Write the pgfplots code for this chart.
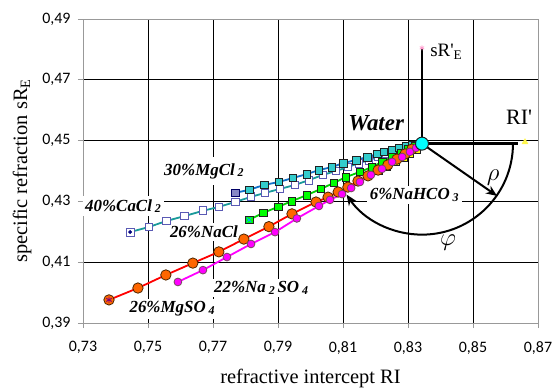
\documentclass[border=0pt]{standalone}
\usepackage{fontspec}
\setmainfont{Liberation Serif}
\newfontfamily\tickfont{Carlito}
\usepackage{pgfplots}
\pgfplotsset{compat=1.18}
\usetikzlibrary{arrows.meta}
\definecolor{caclline}{HTML}{1A9A9A}
\definecolor{cacledge}{HTML}{5A5AB4}
\definecolor{mgclline}{HTML}{1070C8}
\definecolor{mgclfill}{HTML}{33CCCC}
\definecolor{naclline}{HTML}{00CC00}
\definecolor{naclfill}{HTML}{00FF00}
\definecolor{mgsofill}{HTML}{FF6600}
\definecolor{nasofill}{HTML}{FF00FF}
\definecolor{nahcofill}{HTML}{FFFF00}
\definecolor{waterfill}{HTML}{00FFFF}
\definecolor{darkedge}{HTML}{202020}
\newcommand{\sub}[1]{\,{\fontsize{12}{12}\selectfont\raisebox{-1.5bp}{#1}}}
\newcommand{\lab}{\bfseries\itshape\fontsize{17}{17}\selectfont}
\begin{document}
\begin{tikzpicture}
\begin{axis}[
  width=455bp, height=304bp, scale only axis,
  xmin=0.73, xmax=0.87, ymin=0.39, ymax=0.49,
  xtick={0.73,0.75,0.77,0.79,0.81,0.83,0.85,0.87},
  ytick={0.39,0.41,0.43,0.45,0.47,0.49},
  grid=major, grid style={black, line width=0.6bp},
  axis line style={draw=gray!80, line width=0.8bp},
  tick align=outside, tick pos=left, major tick length=5bp,
  tick style={gray!80, line width=0.8bp},
  /pgf/number format/.cd, fixed, fixed zerofill, precision=2, use comma, assume math mode=true,
  /pgfplots/.cd,
  ticklabel style={font=\tickfont\fontsize{16}{16}\selectfont},
  xticklabel style={yshift=-10bp},
  yticklabel style={xshift=-4bp},
  xlabel={refractive intercept RI},
  ylabel={specific refraction sR\textsubscript{E}},
  xlabel style={font=\fontsize{20.5}{20.5}\selectfont, at={(axis description cs:0.5,-0.181)}, anchor=center},
  ylabel style={font=\fontsize{20.5}{20.5}\selectfont, at={(axis description cs:-0.134,0.5)}, anchor=center},
]
% labels with white boxes (drawn before the series)
\node[fill=white, inner sep=3bp] at (axis cs:0.7423,0.4285) {\lab 40\%CaCl\sub{2}};
\node[fill=white, inner sep=3bp, minimum height=28bp] at (axis cs:0.7672,0.4400) {\lab 30\%MgCl\sub{2}};
\node[fill=white, inner sep=3bp] at (axis cs:0.7672,0.4199) {\lab 26\%NaCl};
\node[fill=white, inner sep=3bp] at (axis cs:0.7848,0.4015) {\lab 22\%Na\sub{2}\,SO\sub{4}};
\node[fill=white, inner sep=3bp] at (axis cs:0.7574,0.3946) {\lab 26\%MgSO\sub{4}};
\node[fill=white, inner sep=3bp] at (axis cs:0.8319,0.4321) {\lab 6\%NaHCO\sub{3}};
\node[fill=white, inner sep=4bp, minimum height=33bp] at (axis cs:0.8202,0.4558) {\bfseries\itshape\fontsize{23}{23}\selectfont Water};
\node[anchor=west, inner sep=0pt] at (axis cs:0.8368,0.4792) {\fontsize{19}{19}\selectfont sR\textquotesingle\textsubscript{E}};
\node[inner sep=0pt] at (axis cs:0.8642,0.4578) {\fontsize{22}{22}\selectfont RI\textquotesingle};
\node[inner sep=0pt] at (axis cs:0.8562,0.4380) {\fontsize{26}{26}\selectfont$\rho$};
\node[inner sep=0pt] at (axis cs:0.8423,0.4163) {\fontsize{26}{26}\selectfont$\varphi$};

% 40% CaCl2
\addplot[caclline, line width=1.8bp, mark=square*, mark size=3.9bp,
  mark options={fill=white, draw=cacledge, line width=0.9bp, solid}] coordinates {
(0.7445,0.4199) (0.7503,0.4216) (0.7558,0.4236) (0.7613,0.4252) (0.7669,0.4269)
(0.7718,0.4282) (0.7768,0.4298) (0.7817,0.4315) (0.7860,0.4328) (0.7906,0.4341)
(0.7952,0.4354) (0.7995,0.4370) (0.8038,0.4387) (0.8078,0.4400) (0.8115,0.4413)
(0.8149,0.4426) (0.8180,0.4436) (0.8208,0.4446) (0.8232,0.4456) (0.8257,0.4462)
(0.8278,0.4469) (0.8299,0.4479) (0.8318,0.4484)};
\addplot[only marks, mark=*, mark size=1.7bp, color=blue!50!black] coordinates {(0.7445,0.4199)};

% 30% MgCl2
\addplot[mgclline, line width=1.8bp, mark=square*, mark size=3.9bp,
  mark options={fill=mgclfill, draw=darkedge, line width=0.8bp, solid}] coordinates {
(0.7811,0.4338) (0.7857,0.4354) (0.7903,0.4364) (0.7946,0.4377) (0.7989,0.4390)
(0.8026,0.4403) (0.8066,0.4413) (0.8100,0.4426) (0.8140,0.4436) (0.8174,0.4446)
(0.8205,0.4456) (0.8226,0.4463) (0.8251,0.4469) (0.8272,0.4476) (0.8294,0.4482)
(0.8312,0.4486)};
\addplot[mgclline, line width=1.8bp] coordinates {(0.7768,0.4328) (0.7811,0.4338)};
\addplot[only marks, mark=square*, mark size=3.9bp,
  mark options={fill=blue!35!gray!70, draw=blue!40!black, line width=0.9bp}] coordinates {(0.7768,0.4328)};

% 26% NaCl
\addplot[naclline, line width=1.8bp, mark=square*, mark size=3.9bp,
  mark options={fill=naclfill, draw=darkedge, line width=0.8bp, solid}] coordinates {
(0.7811,0.4239) (0.7854,0.4262) (0.7900,0.4282) (0.7943,0.4301) (0.7989,0.4321)
(0.8032,0.4341) (0.8072,0.4361) (0.8109,0.4380) (0.8152,0.4397) (0.8189,0.4413)
(0.8220,0.4430) (0.8251,0.4446) (0.8278,0.4459) (0.8300,0.4472) (0.8322,0.4482)};
\addplot[only marks, mark=x, mark size=3.2bp, color=cyan, line width=1bp] coordinates {(0.7811,0.4239)};

% 6% NaHCO3
\addplot[yellow!90!orange, line width=1.8bp, mark=square*, mark size=3.9bp,
  mark options={fill=nahcofill, draw=darkedge, line width=0.8bp, solid}] coordinates {
(0.8208,0.4403) (0.8235,0.4416) (0.8260,0.4430) (0.8285,0.4446) (0.8306,0.4459) (0.8325,0.4472)};

% 26% MgSO4
\addplot[red, line width=1.8bp, mark=*, mark size=5.2bp,
  mark options={fill=mgsofill, draw=black!70!orange, line width=0.8bp, solid}] coordinates {
(0.7380,0.3976) (0.7469,0.4015) (0.7555,0.4058) (0.7638,0.4097) (0.7718,0.4134)
(0.7795,0.4176) (0.7872,0.4217) (0.7943,0.4259) (0.8017,0.4298) (0.8054,0.4314)
(0.8085,0.4331) (0.8115,0.4347) (0.8146,0.4367) (0.8177,0.4384) (0.8208,0.4403)
(0.8238,0.4420) (0.8266,0.4439) (0.8291,0.4456) (0.8312,0.4472)};
\addplot[only marks, mark=asterisk, mark size=3.2bp, color=violet, line width=0.9bp] coordinates {(0.7380,0.3976)};

% 22% Na2SO4
\addplot[nasofill, line width=1.8bp, mark=*, mark size=3.9bp,
  mark options={fill=nasofill, draw=black!60!magenta, line width=0.8bp, solid}] coordinates {
(0.7592,0.4035) (0.7669,0.4074) (0.7743,0.4117) (0.7817,0.4160) (0.7891,0.4199)
(0.7958,0.4244) (0.8026,0.4285) (0.8060,0.4305) (0.8097,0.4324) (0.8125,0.4344)
(0.8152,0.4364) (0.8186,0.4387) (0.8220,0.4407) (0.8251,0.4430) (0.8282,0.4446)
(0.8306,0.4463) (0.8325,0.4476)};

% reference lines
\addplot[black, line width=2.4bp] coordinates {(0.8343,0.4490) (0.8343,0.4805)};
\addplot[black, line width=2.4bp] coordinates {(0.8343,0.4490) (0.8638,0.4490)};
\addplot[only marks, mark=asterisk, mark size=2.5bp, color=pink!80!magenta, line width=0.8bp] coordinates {(0.8343,0.4805)};
\addplot[only marks, mark=triangle*, mark size=3.5bp, color=yellow!70] coordinates {(0.8660,0.4495)};
\draw[black, line width=2bp, -{Stealth[length=11bp,width=9bp]}] (axis cs:0.8343,0.4490) -- (axis cs:0.8574,0.4318);
\draw[black, line width=2bp, -{Stealth[length=11bp,width=9bp]}] (axis cs:0.8343,0.4490) ++(0:91bp) arc[start angle=0, end angle=-146, radius=91bp];

% Water point
\addplot[only marks, mark=*, mark size=6.5bp, mark options={fill=waterfill, draw=darkedge, line width=1bp}] coordinates {(0.8343,0.4490)};
\end{axis}
\pgfresetboundingbox
\path[use as bounding box] (-83bp,-67bp) rectangle (471bp,323bp);
\end{tikzpicture}
\end{document}
